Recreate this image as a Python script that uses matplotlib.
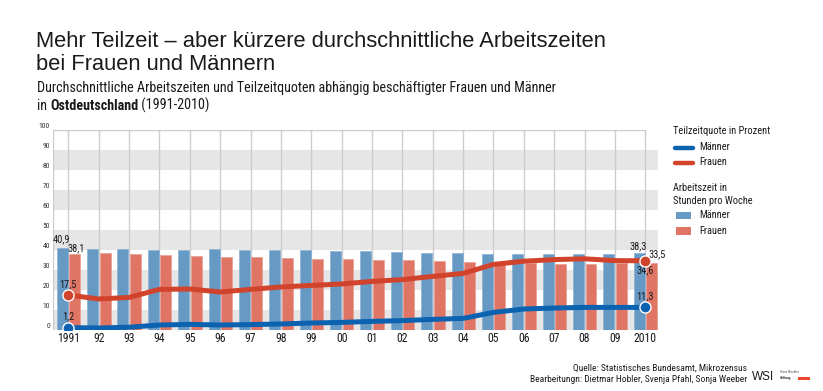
""" Teilzeit und Arbeitszeiten in Ostdeutschland, 1991-2010. """

import matplotlib
matplotlib.use("Agg")
import matplotlib.pyplot as plt
from matplotlib.patches import Rectangle
from matplotlib.lines import Line2D

# data
years = ["1991", "92", "93", "94", "95", "96", "97", "98", "99", "00",
         "01", "02", "03", "04", "05", "06", "07", "08", "09", "2010"]
hours_men = [40.9, 40.6, 40.5, 40.1, 40.0, 40.3, 40.1, 40.0, 39.8, 39.6,
             39.3, 39.1, 38.6, 38.7, 38.2, 38.0, 37.9, 38.0, 38.0, 38.3]
hours_women = [38.1, 38.4, 37.9, 37.3, 36.8, 36.7, 36.3, 35.9, 35.6, 35.4,
               35.0, 34.8, 34.3, 34.2, 33.8, 33.4, 33.0, 33.0, 33.4, 33.5]
quote_men = [1.2, 1.0, 1.4, 2.5, 2.8, 2.5, 2.7, 3.0, 3.5, 3.8,
             4.3, 4.7, 5.3, 5.8, 8.8, 10.5, 11.0, 11.3, 11.3, 11.3]
quote_women = [17.5, 15.5, 16.3, 20.3, 20.5, 19.0, 20.3, 21.5, 22.3, 23.0,
               24.3, 25.2, 26.8, 28.3, 32.8, 34.4, 35.2, 35.6, 34.7, 34.6]
y_ticks = [0, 10, 20, 30, 40, 50, 60, 70, 80, 90, 100]

BLUE_BAR = "#6699c4"
RED_BAR = "#e07566"
BLUE_LINE = "#0a62b0"
RED_LINE = "#d2432c"
BAND = "#e6e6e6"
GRID = "#cccccc"
TXT = "#1a1a1a"

NARROW = ["Roboto Condensed", "Archivo Narrow", "PT Sans Narrow",
          "Liberation Sans Narrow", "DejaVu Sans"]
WIDE = ["Liberation Sans", "DejaVu Sans"]

W, H = 823, 391
fig = plt.figure(figsize=(W / 100, H / 100), dpi=100)
fig.patch.set_facecolor("white")


def fx(px):
    return px / W


def fy(py):
    return 1 - py / H


# plot area: 0 at y=330 px, 100 at y=130 px, years from x=68 px step 30.37 px
step = 30.37
x_left, x_right = 53, 658
ax = fig.add_axes([fx(x_left), fy(330), fx(x_right - x_left), (330 - 130) / H])
n = len(years)
idx = list(range(n))
x0 = -(68.3 - x_left) / step
ax.set_xlim(x0, (x_right - 68.3) / step)
ax.set_ylim(0, 100)
ax.axis("off")

# grey bands
for lo in [0, 20, 40, 60, 80]:
    ax.axhspan(lo, lo + 10, color=BAND, lw=0, zorder=0)

# frame + vertical grid
ax.plot([x0, x0], [0, 100], color=GRID, lw=1, zorder=1)
ax.plot([x0, n - 1], [100, 100], color=GRID, lw=1, zorder=1)
for i in idx:
    ax.plot([i, i], [0, 100], color=GRID, lw=1, zorder=1)

# bars
bw = 0.36
ax.bar([i - 0.02 - bw / 2 for i in idx], hours_men, width=bw,
       color=BLUE_BAR, edgecolor="#8ab1d6", lw=0.5, zorder=2)
ax.bar([i + 0.03 + bw / 2 for i in idx], hours_women, width=bw,
       color=RED_BAR, edgecolor="#eb9a8f", lw=0.5, zorder=2)

# lines
ax.plot(idx, quote_women, color=RED_LINE, lw=3.6, solid_joinstyle="round",
        solid_capstyle="round", zorder=3)
ax.plot(idx, quote_men, color=BLUE_LINE, lw=3.6, solid_joinstyle="round",
        solid_capstyle="round", zorder=3)
for q, c in [(quote_women, RED_LINE), (quote_men, BLUE_LINE)]:
    ax.plot([0, n - 1], [q[0], q[-1]], "o", ms=8, color=c, mec="white",
            mew=1, zorder=4)

# axis labels
for v in y_ticks:
    ax.text(-0.6, v + 2, str(v), ha="right", va="center", fontsize=5.5,
            color="#333333", family=NARROW, clip_on=False)
for i, lab in enumerate(years):
    ax.text(i, -4.2, lab, ha="center", va="center", fontsize=8.5,
            color=TXT, family=NARROW, clip_on=False)


def de(v):
    return ("%.1f" % v).replace(".", ",")


# data labels
lab_kw = dict(fontsize=7.5, color=TXT, family=NARROW, clip_on=False)
ax.text(-0.22, hours_men[0] + 2.2, de(hours_men[0]), ha="center", va="bottom", **lab_kw)
ax.text(0.25, hours_women[0] + 0.4, de(hours_women[0]), ha="center", va="bottom", **lab_kw)
ax.text(0, quote_women[0] + 3.0, de(quote_women[0]), ha="center", va="bottom", **lab_kw)
ax.text(0, quote_men[0] + 3.0, de(quote_men[0]), ha="center", va="bottom", **lab_kw)
ax.text(n - 1.23, hours_men[-1] + 1.2, de(hours_men[-1]), ha="center", va="bottom", **lab_kw)
ax.text(n - 1 + 0.12, quote_women[-1] + 0.6, de(hours_women[-1]), ha="left", va="bottom", **lab_kw)
ax.text(n - 1, quote_women[-1] - 2.0, de(quote_women[-1]), ha="center", va="top", **lab_kw)
ax.text(n - 1, quote_men[-1] + 3.0, de(quote_men[-1]), ha="center", va="bottom", **lab_kw)

# titles
fig.text(fx(36), fy(47), "Mehr Teilzeit – aber kürzere durchschnittliche Arbeitszeiten",
         fontsize=15.75, family=WIDE, color=TXT, va="baseline")
fig.text(fx(36), fy(70), "bei Frauen und Männern",
         fontsize=15.75, family=WIDE, color=TXT, va="baseline")
fig.text(fx(37), fy(92),
         "Durchschnittliche Arbeitszeiten und Teilzeitquoten abhängig beschäftigter Frauen und Männer",
         fontsize=10.2, family=NARROW, color=TXT, va="baseline")

# second subtitle line with bold region name, pieces placed one after another
renderer = fig.canvas.get_renderer()
xpos = fx(37)
for part, wt in [("in ", "normal"), ("Ostdeutschland", "bold"), (" (1991-2010)", "normal")]:
    t = fig.text(xpos, fy(110), part, fontsize=10.2, family=NARROW, color=TXT,
                 va="baseline", weight=wt)
    bb = t.get_window_extent(renderer)
    xpos += bb.width / W

# legend
leg_kw = dict(fontsize=7.5, family=NARROW, color=TXT, va="center")
fig.text(fx(673), fy(131), "Teilzeitquote in Prozent", **leg_kw)
for yy, c, lab in [(148, BLUE_LINE, "Männer"), (162.5, RED_LINE, "Frauen")]:
    fig.add_artist(Line2D([fx(675), fx(693)], [fy(yy), fy(yy)], color=c, lw=3.2,
                          solid_capstyle="round"))
    fig.text(fx(699), fy(yy - 1), lab, **leg_kw)
fig.text(fx(673), fy(188), "Arbeitszeit in", **leg_kw)
fig.text(fx(673), fy(200.5), "Stunden pro Woche", **leg_kw)
for yy, c, lab in [(215.5, BLUE_BAR, "Männer"), (231, RED_BAR, "Frauen")]:
    fig.add_artist(Rectangle((fx(676), fy(yy + 3.5)), fx(15), 7.5 / H, color=c, lw=0))
    fig.text(fx(699), fy(yy), lab, **leg_kw)

# source
fig.text(fx(747), fy(368), "Quelle: Statistisches Bundesamt, Mikrozensus",
         ha="right", va="center", fontsize=6.8, family=NARROW, color=TXT)
fig.text(fx(747), fy(379.5), "Bearbeitungn: Dietmar Hobler, Svenja Pfahl, Sonja Weeber",
         ha="right", va="center", fontsize=6.8, family=NARROW, color=TXT)
fig.text(fx(752), fy(377.5), "WSI", ha="left", va="center", fontsize=8.5,
         family=WIDE, color=TXT)
fig.text(fx(780), fy(372), "Hans Böckler", ha="left", va="center", fontsize=2.6,
         family=NARROW, color="#555555")
fig.text(fx(780), fy(378.5), "Stiftung", ha="left", va="center", fontsize=2.6,
         family=NARROW, color="#333333", weight="bold")
fig.add_artist(Rectangle((fx(798), fy(380)), fx(12), 3 / H, color="#e8452c", lw=0))

fig.savefig("out.png", dpi=100)
